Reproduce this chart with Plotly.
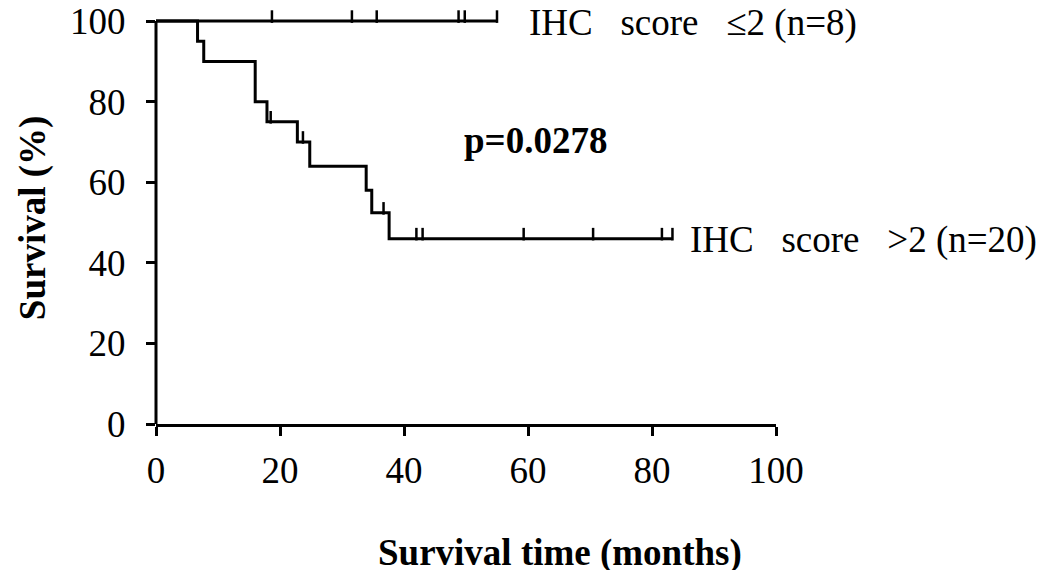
import plotly.graph_objects as go

# ---- data ----
high_times = [0, 6.7, 7.7, 16.0, 17.9, 22.8, 24.8, 33.9, 34.8, 37.6, 83.3]
high_surv = [100, 95, 90, 80, 75, 70, 64, 58, 52.4, 46, 46]
high_censor = [18.5, 23.7, 36.7, 42.0, 43.0, 59.3, 70.5, 81.6, 83.3]

low_times = [0, 55.0]
low_surv = [100, 100]
low_censor = [18.7, 31.6, 35.6, 48.8, 49.8, 55.0]

x_ticks = [0, 20, 40, 60, 80, 100]
y_ticks = [0, 20, 40, 60, 80, 100]

# ---- layout geometry (figure pixels; page shows an 8px body offset) ----
W, H = 1045, 570
OFF = 8
X0 = 156 - OFF          # pixel of x = 0
X100 = 776 - OFF        # pixel of x = 100
Y0 = 424 - OFF          # pixel of y = 0
Y100 = 20.7 - OFF       # pixel of y = 100
YMAX = 103
px_per_unit = (Y0 - Y100) / 100.0
plot_w = X100 - X0
plot_h = px_per_unit * YMAX
L = X0
R = W - X100
B = H - Y0
T = H - B - plot_h
tick_len = 9
censor_off = (tick_len / 2) / px_per_unit

FONT = "Liberation Serif"
FS = 37


def surv_at(times, surv, t):
    s = surv[0]
    for ti, si in zip(times, surv):
        if ti <= t:
            s = si
    return s


def paper_x(px):
    return (px - OFF - X0) / plot_w


def paper_y(py):
    return (Y0 - (py - OFF)) / plot_h


fig = go.Figure()

for times, surv, cens in [(low_times, low_surv, low_censor), (high_times, high_surv, high_censor)]:
    fig.add_trace(go.Scatter(
        x=times, y=surv, mode="lines", line=dict(color="black", width=3, shape="hv"),
        cliponaxis=False, showlegend=False, hoverinfo="skip"))
    fig.add_trace(go.Scatter(
        x=cens, y=[surv_at(times, surv, c) + censor_off for c in cens], mode="markers",
        marker=dict(symbol="line-ns", size=tick_len, line=dict(color="black", width=2.5)),
        cliponaxis=False, showlegend=False, hoverinfo="skip"))

# y-axis line only from 0 to 100
fig.add_shape(type="line", xref="paper", yref="y", x0=0, x1=0, y0=0, y1=100,
              line=dict(color="black", width=3), layer="below")

NB = "\u00a0"
fig.add_annotation(x=59.8, y=99.5, xref="x", yref="y", xanchor="left", yanchor="middle",
                   text=f"IHC{NB*3}score{NB*3}≤2 (n=8)", showarrow=False,
                   font=dict(family=FONT, size=FS, color="black"))
fig.add_annotation(x=85.8, y=45.6, xref="x", yref="y", xanchor="left", yanchor="middle",
                   text=f"IHC{NB*3}score{NB*3}>2 (n=20)", showarrow=False,
                   font=dict(family=FONT, size=FS, color="black"))
fig.add_annotation(x=49.4, y=70.4, xref="x", yref="y", xanchor="left", yanchor="middle",
                   text="<b>p=0.0278</b>", showarrow=False,
                   font=dict(family=FONT, size=FS, color="black"))
fig.add_annotation(x=paper_x(560), y=paper_y(553), xref="paper", yref="paper",
                   xanchor="center", yanchor="middle",
                   text="<b>Survival time (months)</b>", showarrow=False,
                   font=dict(family=FONT, size=FS, color="black"))
fig.add_annotation(x=paper_x(33), y=paper_y(218), xref="paper", yref="paper",
                   xanchor="center", yanchor="middle", textangle=-90,
                   text="<b>Survival (%)</b>", showarrow=False,
                   font=dict(family=FONT, size=FS, color="black"))

axis_common = dict(showgrid=False, zeroline=False, linecolor="black", linewidth=3,
                   ticks="outside", ticklen=tick_len, tickwidth=2.5, tickcolor="black",
                   tickfont=dict(family=FONT, size=FS, color="black"), layer="below traces",
                   ticklabeloverflow="allow")
fig.update_xaxes(range=[0, 100], tickvals=x_ticks, ticktext=[str(v) for v in x_ticks],
                 showline=True, ticklabelstandoff=3, **axis_common)
fig.update_yaxes(range=[0, YMAX], tickvals=y_ticks, ticktext=[str(v) for v in y_ticks],
                 showline=False, ticklabelstandoff=13, **axis_common)

fig.update_layout(width=W, height=H, margin=dict(l=L, r=R, t=T, b=B, autoexpand=False),
                  plot_bgcolor="white", paper_bgcolor="white", showlegend=False)

fig.write_html("out.html")
